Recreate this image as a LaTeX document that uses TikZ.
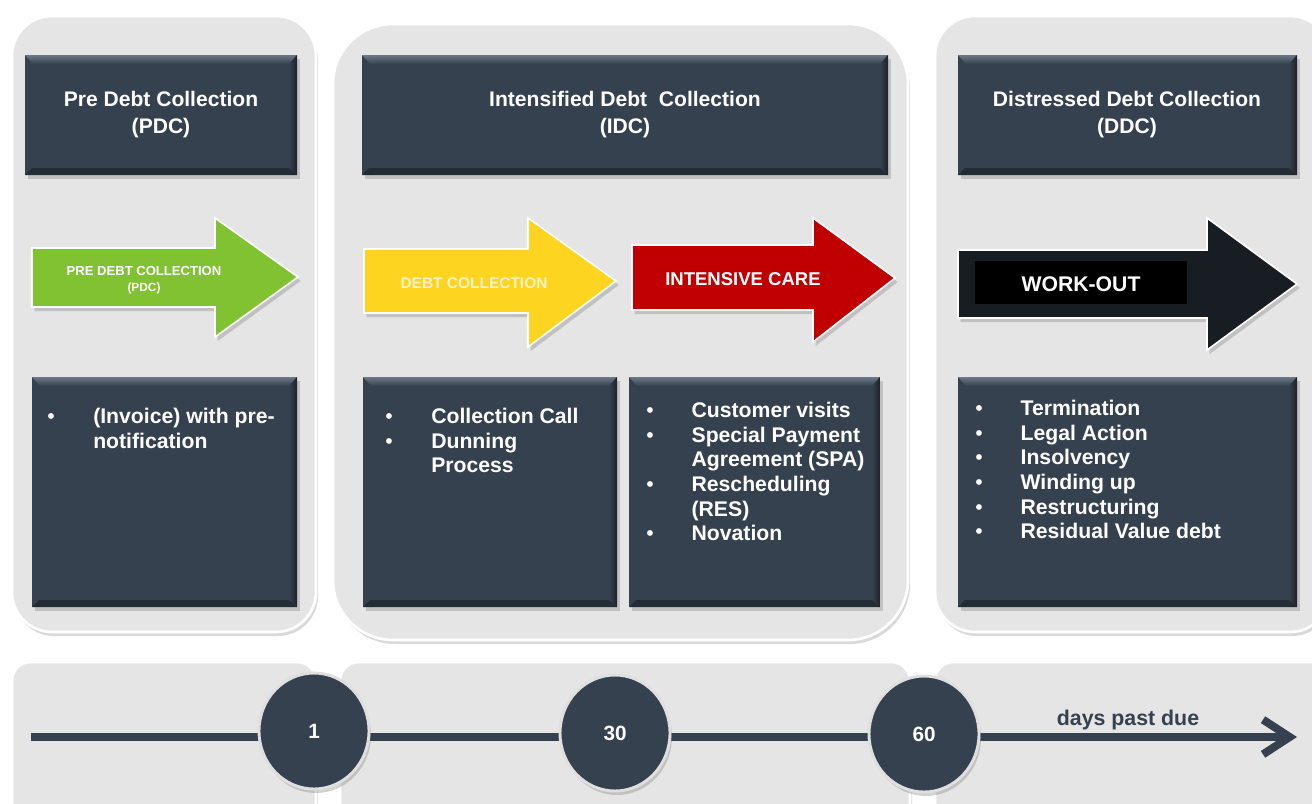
\documentclass[tikz,border=0pt]{standalone}
\usepackage{fontspec}
\setmainfont{Liberation Sans}
\usetikzlibrary{shadows,shapes.geometric,arrows.meta}
\definecolor{slate}{HTML}{36414F}
\definecolor{slatelight}{HTML}{6C7887}
\definecolor{slatedark}{HTML}{1B2129}
\definecolor{panelgray}{HTML}{E5E5E5}
\definecolor{pdcgreen}{HTML}{80C232}
\definecolor{dcyellow}{HTML}{FDD41F}
\definecolor{dccream}{HTML}{FFF3C4}
\definecolor{icred}{HTML}{C00000}
\definecolor{woblack}{HTML}{181D24}
\tikzset{
  panel/.style={fill=panelgray, draw=white, line width=2pt,
    drop shadow={opacity=0.3, shadow xshift=1.5pt, shadow yshift=-3pt}},
  phasearrow/.style={draw=white, line width=1.2pt,
    drop shadow={opacity=0.35, shadow xshift=2pt, shadow yshift=-3pt}},
  headtext/.style={text=white, font=\bfseries\fontsize{15.8}{20.3}\selectfont, align=center, inner sep=0pt},
  listtext/.style={text=white, font=\bfseries\fontsize{15.9}{18.5}\selectfont, anchor=base west, inner sep=0pt},
  daynode/.style={ellipse, minimum width=82.5pt, minimum height=87pt, fill=slate, draw=gray!25!white,
    line width=2.2pt, text=white, font=\bfseries\fontsize{15.5}{18}\selectfont,
    drop shadow={opacity=0.35, shadow xshift=1.5pt, shadow yshift=-3pt}},
}
\begin{document}
\begin{tikzpicture}[x=0.75pt,y=0.75pt,yscale=-1,xscale=1]
\useasboundingbox (0,0) rectangle (1312,803);
\clip (0,0) rectangle (1312,803);

% panels
\draw[panel, rounded corners=30] (12,16) rectangle (316,632);
\draw[panel, rounded corners=45] (333,24) rectangle (908,640);
\draw[panel, rounded corners=30] (935,16) rectangle (1330,632);
% timeline panels
\draw[panel, rounded corners=14] (12,662) rectangle (316,830);
\draw[panel, rounded corners=14] (340,662) rectangle (910,830);
\draw[panel, rounded corners=14] (935,662) rectangle (1330,830);

% dark boxes with bevel
\foreach \xa/\ya/\xb/\yb in {25/55/297/175, 362/55/888/175, 958/55/1297/175,
    32/377/297/607, 363/377/617/607, 629/377/880/607, 958/377/1297/607}{
  \fill[slate, drop shadow={opacity=0.35, shadow xshift=2pt, shadow yshift=-3pt}] (\xa,\ya) rectangle (\xb,\yb);
  \shade[top color=slatelight, bottom color=slate] (\xa,\ya) -- (\xb,\ya) -- (\xb-8,\ya+9) -- (\xa+8,\ya+9) -- cycle;
  \fill[slatedark!70!slate] (\xa,\yb) -- (\xb,\yb) -- (\xb-7,\yb-7) -- (\xa+7,\yb-7) -- cycle;
  \shade[left color=slate, right color=slatedark] (\xb,\ya) -- (\xb,\yb) -- (\xb-8,\yb-7) -- (\xb-8,\ya+9) -- cycle;
}

% phase arrows
\fill[pdcgreen, phasearrow] (32,248) -- (215,248) -- (215,218) -- (298,277) -- (215,337) -- (215,307) -- (32,307) -- cycle;
\fill[dcyellow, phasearrow] (364,249) -- (528,249) -- (528,218) -- (616,281) -- (528,347) -- (528,313) -- (364,313) -- cycle;
\fill[icred, phasearrow] (632,245) -- (813,245) -- (813,218) -- (895,278) -- (813,342) -- (813,310) -- (632,310) -- cycle;
\fill[woblack, phasearrow] (958,250) -- (1207,250) -- (1207,218) -- (1297,284) -- (1207,350) -- (1207,318) -- (958,318) -- cycle;
\fill[black] (975,261) rectangle (1187,304);

% Text Node
\node[headtext] (pdchead) at (161,115) {Pre Debt Collection\\(PDC)};
\node[headtext] (idchead) at (625,115) {Intensified Debt~ Collection\\(IDC)};
\node[headtext] (ddchead) at (1127,115) {Distressed Debt Collection\\(DDC)};

\node[text=white, font=\bfseries, align=center, inner sep=0pt] (pdclabel) at (144,280)
  {\fontsize{9.8}{17}\selectfont PRE DEBT COLLECTION\\\fontsize{8.9}{10}\selectfont (PDC)};
\node[text=dccream, font=\bfseries\fontsize{11.6}{14}\selectfont, inner sep=0pt] (dclabel) at (474,283) {DEBT COLLECTION};
\node[text=white, font=\bfseries\fontsize{13.9}{16}\selectfont, inner sep=0pt] (iclabel) at (743,279) {INTENSIVE CARE};
\node[text=white, font=\bfseries\fontsize{15.9}{18}\selectfont, inner sep=0pt] (wolabel) at (1081,284) {WORK-OUT};

% bullet lists
\node[listtext] (pdclist) at (47,423.6) {\begin{tabular}[t]{@{}p{34.5pt}@{}l@{}}
  {\mdseries •} & (Invoice) with pre-\\ & notification\end{tabular}};
\node[listtext] (dclist) at (385,423.6) {\begin{tabular}[t]{@{}p{34.5pt}@{}l@{}}
  {\mdseries •} & Collection Call\\ {\mdseries •} & Dunning\\ & Process\end{tabular}};
\node[listtext] (iclist) at (646,417.6) {\begin{tabular}[t]{@{}p{34pt}@{}l@{}}
  {\mdseries •} & Customer visits\\ {\mdseries •} & Special Payment\\ & Agreement (SPA)\\
  {\mdseries •} & Rescheduling\\ & (RES)\\ {\mdseries •} & Novation\end{tabular}};
\node[listtext] (wolist) at (975,415.6) {\begin{tabular}[t]{@{}p{34pt}@{}l@{}}
  {\mdseries •} & Termination\\ {\mdseries •} & Legal Action\\ {\mdseries •} & Insolvency\\
  {\mdseries •} & Winding up\\ {\mdseries •} & Restructuring\\ {\mdseries •} & Residual Value debt\end{tabular}};

% timeline
\coordinate (tlstart) at (31,737);
\coordinate (tlend) at (1297,737);
\draw[slate, line width=6pt, -{Straight Barb[length=20pt,width=26pt]}] (tlstart) -- (tlend);
\node[daynode] (day1) at (314,731) {1};
\node[daynode] (day30) at (615,733) {30};
\node[daynode] (day60) at (924,734) {60};
\node[text=slate, font=\bfseries\fontsize{16}{18}\selectfont, inner sep=0pt] (dpd) at (1128,720) {days past due};

\end{tikzpicture}
\end{document}
